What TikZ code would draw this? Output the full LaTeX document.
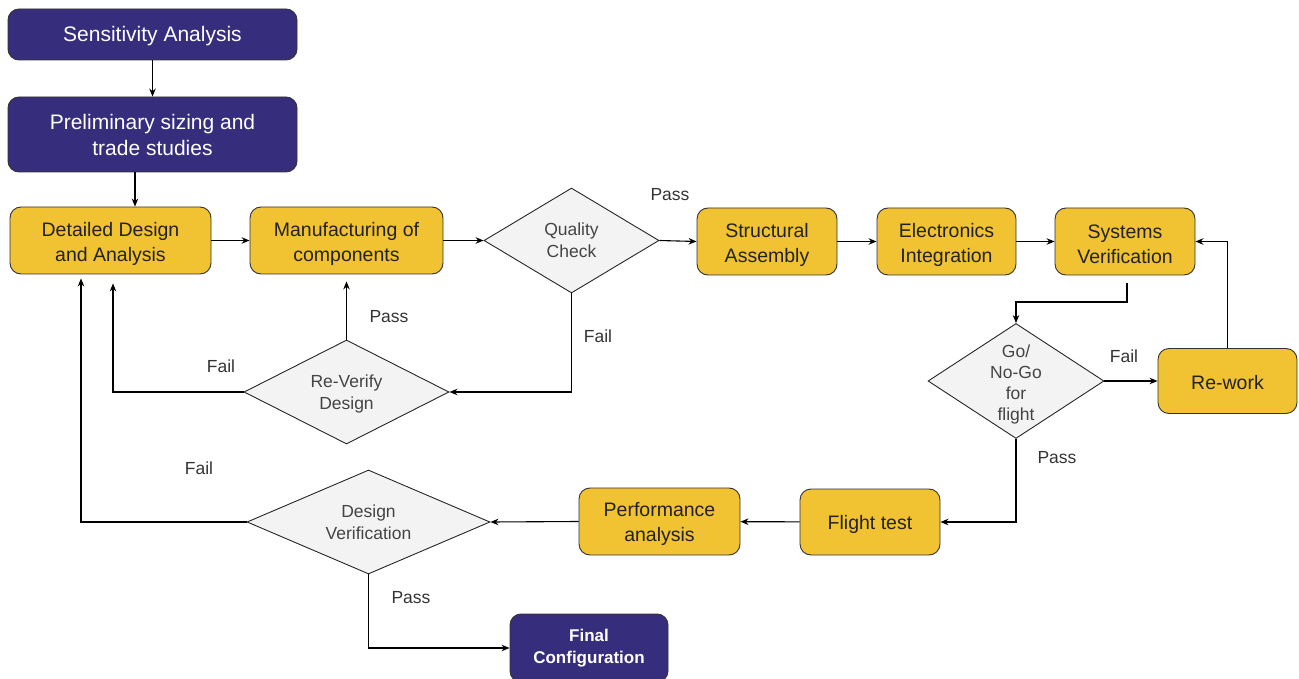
\documentclass[tikz,border=0pt]{standalone}
\usepackage{fontspec}
\setmainfont{Liberation Sans}
\usetikzlibrary{shapes.geometric,arrows.meta}
\definecolor{navy}{RGB}{55,45,125}
\definecolor{gold}{RGB}{241,194,50}
\definecolor{dfill}{RGB}{243,243,243}
\definecolor{txt}{RGB}{34,34,34}
\definecolor{dtxt}{RGB}{68,68,68}
\newcommand\tupp[1]{\rule{0pt}{#1}}
\tikzset{
  navybox/.style={draw=black!80, line width=0.9pt, fill=navy, rounded corners=11pt, text=white, align=center, inner sep=0pt, font=\fontsize{21}{26}\selectfont},
  goldbox/.style={draw=black!80, line width=0.9pt, fill=gold, rounded corners=11pt, text=txt, align=center, inner sep=0pt, font=\fontsize{19.5}{25}\selectfont},
  decision/.style={diamond, draw=black!85, line width=0.9pt, fill=dfill, text=dtxt, align=center, inner sep=0pt, font=\fontsize{17.5}{22}\selectfont},
  lbl/.style={text=black!80, font=\fontsize{17.5}{21}\selectfont, inner sep=0pt},
  arr/.style={draw=black, line width=1.1pt, -{Stealth[length=8pt,width=6.5pt]}},
}
\begin{document}
\begin{tikzpicture}[x=1pt,y=-1pt]
\useasboundingbox (0,0) rectangle (1299,679);
% nodes
\node[navybox, minimum width=289pt, minimum height=51pt] (SA) at (152.5,34.5) {\tupp{18pt}Sensitivity Analysis};
\node[navybox, minimum width=289pt, minimum height=75pt] (PS) at (152.5,134.5) {Preliminary sizing and\\trade studies};
\node[goldbox, minimum width=201pt, minimum height=67pt] (DD) at (110.5,240.5) {\tupp{22pt}Detailed Design\\and Analysis};
\node[goldbox, minimum width=193pt, minimum height=67pt] (MC) at (346.5,240.5) {\tupp{22pt}Manufacturing of\\components};
\node[decision, minimum width=175pt, minimum height=105pt, aspect=1.67] (QC) at (571.5,240.5) {Quality\\Check};
\node[goldbox, minimum width=140pt, minimum height=67pt] (ST) at (767,241.5) {\tupp{22pt}Structural\\Assembly};
\node[goldbox, minimum width=139pt, minimum height=67pt] (EI) at (946.5,241.5) {\tupp{22pt}Electronics\\Integration};
\node[goldbox, minimum width=140pt, minimum height=67pt] (SV) at (1125,241.5) {\tupp{20pt}Systems\\Verification};
\node[decision, minimum width=176pt, minimum height=115pt, aspect=1.53, inner sep=-10pt, font=\fontsize{17.5}{20.8}\selectfont] (GN) at (1016,381) {\tupp{20pt}Go/\\No-Go\\for\\flight};
\node[goldbox, minimum width=139pt, minimum height=65pt] (RW) at (1227.5,381) {\tupp{18pt}Re-work};
\node[decision, minimum width=205pt, minimum height=104pt, aspect=1.97] (RV) at (346.5,392) {\tupp{17pt}Re-Verify\\Design};
\node[goldbox, minimum width=140pt, minimum height=66pt] (FT) at (870,522) {\tupp{19pt}Flight test};
\node[goldbox, minimum width=161pt, minimum height=67pt] (PA) at (659.5,521.5) {\tupp{20pt}Performance\\analysis};
\node[decision, minimum width=243pt, minimum height=104pt, aspect=2.34] (DV) at (368.5,522) {Design\\Verification};
\node[navybox, minimum width=158pt, minimum height=68pt, font=\bfseries\fontsize{17}{22}\selectfont] (FC) at (589,648) {Final\\Configuration};
% labels
\node[lbl] (l1) at (670,195) {Pass};
\node[lbl] (l2) at (598,336) {Fail};
\node[lbl] (l3) at (389,317) {Pass};
\node[lbl] (l4) at (221,366) {Fail};
\node[lbl] (l5) at (199,468) {Fail};
\node[lbl] (l6) at (411,598) {Pass};
\node[lbl] (l7) at (1124,356) {Fail};
\node[lbl] (l8) at (1057,458) {Pass};
% connectors
\draw[arr] (SA) -- (PS);
\draw[arr] (PS.south -| 135,0) -- (DD.north -| 135,0);
\draw[arr] (DD) -- (MC);
\draw[arr] (MC.east) -- (QC.west);
\draw[arr] (QC.east) -- (ST.west);
\draw[arr] (ST) -- (EI);
\draw[arr] (EI) -- (SV);
\draw[arr, shorten <=8pt] (SV.south -| 1127,0) -- (1127,302) -| (GN.north);
\draw[arr] (GN.east) -- (RW.west);
\draw[arr] (RW.north) |- (SV.east);
\draw[arr] (GN.south) |- (FT.east);
\draw[arr] (FT) -- (PA);
\draw[arr] (PA.west) -- (DV.east);
\draw[arr, shorten >=4pt] (DV.west) -| (DD.south -| 81,0);
\draw[arr, shorten >=9pt] (RV.west) -| (DD.south -| 113,0);
\draw[arr, shorten >=7pt] (RV.north) -- (MC.south);
\draw[arr] (QC.south) |- (RV.east);
\draw[arr] (DV.south) |- (FC.west);
\end{tikzpicture}
\end{document}
